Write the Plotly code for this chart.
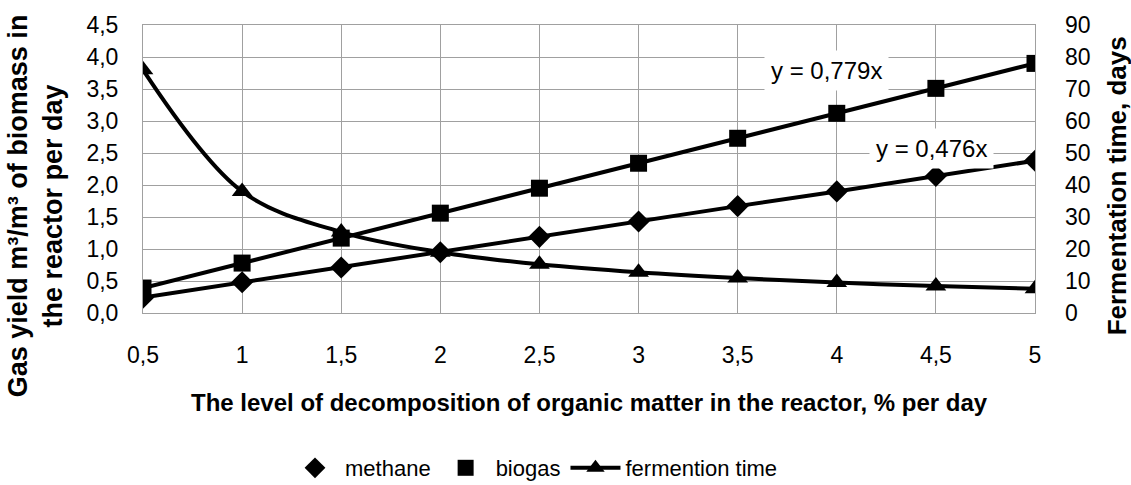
import plotly.graph_objects as go

# Data
x_vals = [0.5, 1, 1.5, 2, 2.5, 3, 3.5, 4, 4.5, 5]
x_labels = ["0,5", "1", "1,5", "2", "2,5", "3", "3,5", "4", "4,5", "5"]
methane = [0.24, 0.48, 0.71, 0.95, 1.19, 1.43, 1.67, 1.90, 2.14, 2.38]
biogas = [0.39, 0.78, 1.17, 1.56, 1.95, 2.34, 2.73, 3.12, 3.51, 3.90]
ferm_time = [76, 38, 25.3, 19, 15.2, 12.7, 10.9, 9.5, 8.4, 7.6]
y_left_ticks = [0, 0.5, 1, 1.5, 2, 2.5, 3, 3.5, 4, 4.5]
y_left_labels = ["0,0", "0,5", "1,0", "1,5", "2,0", "2,5", "3,0", "3,5", "4,0", "4,5"]
y_right_ticks = [0, 10, 20, 30, 40, 50, 60, 70, 80, 90]
trend_labels = ["y = 0,779x", "y = 0,476x"]

FONT = "Liberation Sans, Arial, sans-serif"
BLACK = "#000000"
GRID = "#a0a0a0"
LW = 4

fig = go.Figure()

# trendlines (no legend)
fig.add_trace(go.Scatter(x=x_vals, y=biogas, mode="lines", line=dict(color=BLACK, width=LW),
                         showlegend=False, hoverinfo="skip"))
fig.add_trace(go.Scatter(x=x_vals, y=methane, mode="lines", line=dict(color=BLACK, width=LW),
                         showlegend=False, hoverinfo="skip"))

fig.add_trace(go.Scatter(x=x_vals, y=methane, mode="markers", name="methane",
                         marker=dict(symbol="diamond", size=17, color=BLACK)))
fig.add_trace(go.Scatter(x=x_vals, y=biogas, mode="markers", name="biogas",
                         marker=dict(symbol="square", size=17, color=BLACK)))
fig.add_trace(go.Scatter(x=x_vals, y=ferm_time, mode="lines+markers", name="fermention time",
                         yaxis="y2", line=dict(color=BLACK, width=LW, shape="spline"),
                         marker=dict(symbol="triangle-up", size=18, color=BLACK)))

fig.add_annotation(x=3.95, y=3.79, text=trend_labels[0], showarrow=False, xref="x", yref="y",
                   bgcolor="white", borderpad=6, font=dict(family=FONT, size=24, color=BLACK))
fig.add_annotation(x=4.48, y=2.57, text=trend_labels[1], showarrow=False, xref="x", yref="y",
                   bgcolor="white", borderpad=6, font=dict(family=FONT, size=24, color=BLACK))

# axis titles as annotations
fig.add_annotation(x=-0.121, y=0.371, xref="paper", yref="paper", showarrow=False, textangle=-90,
                   text="<b>Gas yield m³/m³ of biomass in<br>the reactor per day</b>",
                   font=dict(family=FONT, size=27, color=BLACK), xanchor="center", yanchor="middle")
fig.add_annotation(x=1.092, y=0.44, xref="paper", yref="paper", showarrow=False, textangle=-90,
                   text="<b>Fermentation time, days</b>",
                   font=dict(family=FONT, size=26, color=BLACK), xanchor="center", yanchor="middle")
fig.add_annotation(x=0.5, y=-0.31, xref="paper", yref="paper", showarrow=False,
                   text="<b>The level of decomposition of organic matter in the reactor, % per day</b>",
                   font=dict(family=FONT, size=24, color=BLACK), xanchor="center", yanchor="middle")

fig.update_layout(
    width=1131, height=485,
    margin=dict(l=143, r=96, t=22, b=172),
    paper_bgcolor="white", plot_bgcolor="white",
    font=dict(family=FONT, size=23, color=BLACK),
    xaxis=dict(range=[0.5, 5], tickvals=x_vals, ticktext=x_labels, showgrid=True,
               gridcolor=GRID, gridwidth=1, zeroline=False, showline=True, linecolor=GRID,
               mirror=True, ticks="", ticklabelstandoff=21),
    yaxis=dict(range=[0, 4.5], tickvals=y_left_ticks, ticktext=y_left_labels, showgrid=True,
               gridcolor=GRID, gridwidth=1, zeroline=False, showline=True, linecolor=GRID,
               mirror=True, ticks="", ticklabelstandoff=19),
    yaxis2=dict(range=[0, 90], tickvals=y_right_ticks, overlaying="y", side="right",
                showgrid=False, zeroline=False, ticks="", ticklabelstandoff=29),
    legend=dict(orientation="h", xref="container", x=285 / 1131, xanchor="left",
                yref="container", y=1 - 468 / 485, yanchor="middle",
                font=dict(family=FONT, size=22, color=BLACK), itemwidth=50, tracegroupgap=0),
    showlegend=True,
)

fig.write_html("out.html", config={"displayModeBar": False},
               post_script="document.body.style.margin='0px';")
